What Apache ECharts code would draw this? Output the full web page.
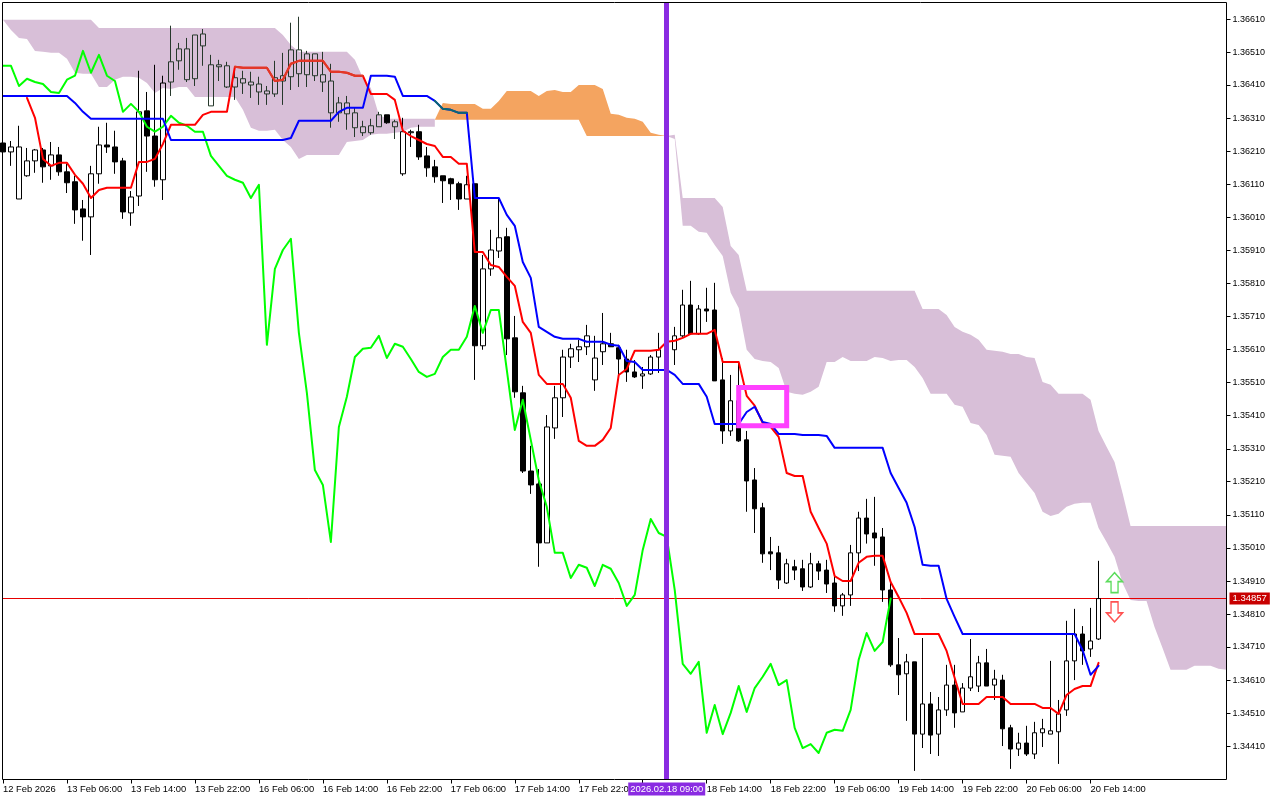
<!DOCTYPE html>
<html><head><meta charset="utf-8">
<script src="https://cdn.jsdelivr.net/npm/echarts@6/dist/echarts.min.js"></script>
<style>html,body{margin:0;padding:0;background:#fff}#c{width:1280px;height:800px}</style>
</head><body><div id="c"></div>
<script>
// All prices are in points (1 point = 0.00001)
const opens=[136232,136205,136063,136133,136178,136211,136163,136196,136145,136115,
136033,136009,136139,136226,136220,136178,136021,136072,136329,136253,
136121,136416,136480,136516,136426,136561,136344,136468,136465,136401,
136426,136416,136410,136389,136380,136419,136432,136513,136438,136501,
136438,136419,136323,136353,136323,136281,136263,136281,136317,136296,
136139,136263,136266,136193,136160,136133,136124,136109,136063,136109,
135620,135852,135906,135949,135644,135478,135242,135203,135025,135372,
135463,135586,135608,135617,135517,135602,135626,135614,135580,135541,
135529,135535,135586,135608,135608,135650,135743,135656,135731,135728,
135517,135363,135454,135336,135215,135131,134998,134995,134904,134953,
134947,134892,134962,134943,134904,134835,134868,134995,135100,135055,
135043,134883,134657,134630,134666,134448,134539,134448,134521,134596,
134515,134587,134593,134663,134596,134611,134467,134403,134421,134388,
134452,134448,134455,134521,134669,134750,134705,134735];
const closes=[136205,136220,136220,136178,136211,136160,136196,136145,136112,136030,
136009,136139,136226,136220,136175,136024,136069,136326,136253,136121,
136413,136477,136516,136423,136558,136525,136468,136462,136401,136429,
136413,136407,136386,136380,136429,136435,136513,136441,136501,136435,
136416,136323,136353,136320,136278,136263,136284,136317,136293,136281,
136266,136266,136190,136157,136130,136118,136109,136063,136106,135620,
135852,135909,135946,135641,135481,135242,135200,135025,135375,135463,
135586,135611,135617,135650,135583,135626,135617,135580,135541,135526,
135535,135586,135608,135632,135650,135743,135656,135731,135725,135514,
135363,135454,135333,135212,135128,134992,134992,134913,134962,134943,
134892,134962,134940,134901,134835,134868,134995,135100,135052,135040,
134883,134657,134627,134666,134448,134539,134445,134521,134596,134512,
134587,134621,134663,134593,134614,134464,134403,134421,134388,134452,
134464,134458,134509,134669,134750,134699,134729,134857];
const lows=[136205,136163,136063,136130,136142,136112,136121,136133,136081,135988,
135937,135894,136109,136202,136139,136003,135982,136042,136145,136100,
136060,136374,136453,136416,136404,136465,136344,136419,136398,136362,
136380,136368,136347,136347,136371,136347,136392,136401,136401,136419,
136386,136278,136296,136272,136250,136253,136257,136281,136290,136244,
136133,136220,136181,136130,136112,136051,136060,136030,136063,135517,
135608,135831,135885,135592,135463,135236,135173,134953,135025,135339,
135405,135553,135571,135592,135484,135562,135617,135532,135511,135523,
135490,135532,135538,135592,135562,135644,135656,135653,135692,135514,
135324,135348,135330,135119,135055,134965,134943,134886,134901,134913,
134880,134889,134913,134874,134817,134805,134835,134940,135023,134956,
134847,134651,134566,134488,134337,134406,134388,134382,134503,134467,
134515,134578,134575,134593,134551,134412,134343,134382,134382,134373,
134409,134448,134358,134503,134611,134657,134681,134732];
const highs=[136232,136238,136284,136217,136214,136217,136235,136220,136169,136133,
136060,136163,136281,136293,136269,136187,136087,136450,136386,136468,
136435,136586,136534,136549,136558,136576,136498,136483,136477,136462,
136450,136447,136432,136404,136480,136504,136595,136613,136510,136501,
136507,136471,136371,136374,136338,136299,136305,136326,136317,136302,
136308,136272,136287,136220,136181,136133,136127,136115,136133,136109,
135894,135970,136066,135976,135710,135499,135318,135248,135411,135499,
135608,135626,135638,135683,135650,135719,135659,135623,135608,135577,
135556,135592,135659,135653,135677,135789,135816,135743,135795,135810,
135583,135532,135568,135363,135251,135146,135043,135016,134977,134974,
134974,134995,134971,134974,134928,134874,135019,135119,135158,135164,
135070,134907,134738,134690,134666,134738,134575,134560,134657,134657,
134602,134735,134684,134705,134642,134627,134476,134452,134473,134485,
134494,134669,134551,134790,134826,134774,134829,134971];
const kijun=[136374,136374,136374,136374,136374,136374,136374,136374,136374,136353,
136326,136305,136305,136305,136305,136305,136305,136305,136305,136305,
136305,136241,136241,136241,136241,136241,136241,136241,136241,136241,
136241,136241,136241,136241,136241,136241,136247,136299,136299,136299,
136299,136299,136326,136338,136338,136338,136435,136435,136435,136432,
136374,136374,136374,136374,136359,136335,136332,136323,136323,136066,
136066,136066,136066,136015,135982,135873,135825,135677,135662,135647,
135641,135641,135641,135632,135632,135632,135623,135620,135574,135571,
135547,135547,135547,135547,135532,135505,135505,135505,135466,135384,
135384,135384,135384,135420,135436,135390,135384,135354,135354,135354,
135351,135351,135351,135348,135312,135312,135312,135312,135312,135312,
135312,135236,135191,135146,135073,134959,134956,134956,134856,134802,
134750,134750,134750,134750,134750,134750,134750,134750,134750,134750,
134750,134750,134750,134750,134750,134702,134627,134654];
const tenkan=[null,null,null,136368,136308,136184,136163,136172,136172,136136,
136109,136066,136090,136097,136097,136097,136097,136175,136175,136184,
136229,136287,136287,136287,136287,136317,136326,136326,136326,136462,
136459,136459,136459,136459,136419,136423,136471,136480,136480,136480,
136480,136447,136447,136444,136435,136435,136380,136380,136380,136362,
136269,136253,136241,136229,136223,136190,136190,136169,136169,135903,
135903,135864,135858,135828,135801,135692,135659,135532,135505,135505,
135505,135463,135333,135318,135318,135336,135372,135532,135550,135605,
135605,135605,135608,135632,135635,135644,135656,135656,135656,135668,
135571,135571,135571,135469,135439,135387,135375,135345,135236,135227,
135227,135119,135070,135023,134925,134910,134910,134965,134983,134986,
134986,134907,134862,134814,134750,134750,134750,134750,134699,134618,
134539,134539,134539,134560,134560,134560,134539,134539,134539,134539,
134527,134527,134509,134566,134584,134593,134593,134663];
const chikou=[136465,136465,136404,136426,136416,136410,136386,136383,136423,136435,
136510,136444,136498,136435,136419,136326,136350,136326,136281,136266,
136281,136314,136293,136284,136266,136266,136193,136163,136133,136121,
136112,136066,136106,135623,135852,135909,135943,135659,135478,135245,
135200,135028,135375,135466,135586,135611,135614,135650,135583,135626,
135617,135580,135541,135526,135535,135586,135608,135608,135647,135740,
135659,135728,135728,135547,135366,135457,135336,135215,135134,134995,
134995,134919,134959,134950,134895,134959,134947,134904,134835,134868,
135004,135097,135055,135043,134883,134660,134630,134666,134452,134536,
134448,134512,134593,134515,134587,134621,134660,134596,134611,134467,
134406,134418,134391,134452,134461,134458,134521,134672,134753,134699,
134726,134857];
const cloudTop=[136604,136604,136604,136604,136604,136604,136604,136604,136604,136604,
136604,136604,136579,136579,136579,136579,136579,136579,136579,136579,
136579,136579,136579,136579,136579,136579,136579,136579,136579,136579,
136579,136579,136579,136579,136579,136558,136528,136507,136507,136507,
136507,136507,136507,136507,136483,136429,136398,136317,136305,136305,
136305,136305,136305,136305,136305,null,null,null,null,null,
null,null,null,null,null,null,null,null,null,null,
null,null,null,null,null,null,null,null,null,null,
null,null,null,136253,136257,136066,136066,136066,136066,136066,
136039,135921,135894,135786,135786,135786,135786,135786,135786,135786,
135786,135786,135786,135786,135786,135786,135786,135786,135786,135786,
135786,135786,135786,135786,135786,135731,135731,135731,135713,135677,
135662,135653,135638,135608,135605,135602,135595,135595,135586,135583,
135511,135502,135475,135475,135475,135475,135457,135363,135315,135269,
135176,135076,135076,135076,135076,135076,135076,135076,135076,135076,
135076,135076,135076,135076];
const cloudBottom=[136604,136573,136549,136546,136510,136507,136504,136504,136486,136444,
136441,136441,136401,136401,136423,136432,136432,136429,136413,136383,
136398,136395,136401,136401,136371,136371,136371,136371,136371,136371,
136332,136278,136269,136269,136272,136241,136220,136184,136196,136196,
136196,136196,136196,136235,136238,136241,136257,136260,136260,136263,
136266,136278,136281,136281,136281,null,null,null,null,null,
null,null,null,null,null,null,null,null,null,null,
null,null,null,null,null,null,null,null,null,null,
null,null,null,136253,136244,135982,135982,135964,135961,135924,
135891,135780,135734,135608,135580,135574,135571,135553,135481,135475,
135472,135481,135496,135571,135571,135586,135574,135574,135574,135586,
135583,135574,135577,135577,135556,135523,135475,135475,135475,135442,
135436,135387,135381,135351,135291,135288,135285,135236,135206,135176,
135119,135106,135113,135134,135143,135146,135146,135070,135028,134983,
134904,134853,134850,134850,134771,134708,134642,134642,134642,134654,
134654,134654,134645,134642];
const reverseStart=54;
const reverseTop=[136302,136353,136350,136350,136350,136350,136335,136335,136359,136389,
136389,136389,136389,136374,136389,136392,136386,136386,136407,136407,
136407,136395,136320,136317,136308,136305,136296,136263,136257,136253];
const reverseBottom=[136302,136302,136302,136302,136302,136302,136302,136302,136302,136302,
136302,136302,136302,136302,136302,136302,136302,136302,136302,136253,
136253,136253,136253,136253,136253,136253,136253,136253,136253,136253];
const priceTicks=[136606,136506,136407,136307,136207,136108,136008,135908,135808,135708,135609,135509,135409,135309,135210,135110,135010,134910,134810,134711,134611,134511,134411];
const priceLabels=['1.36610','1.36510','1.36410','1.36310','1.36210','1.36110','1.36010','1.35910','1.35810','1.35710','1.35610','1.35510','1.35410','1.35310','1.35210','1.35110','1.35010','1.34910','1.34810','1.34710','1.34610','1.34510','1.34410'];
const timeLabels=['12 Feb 2026','13 Feb 06:00','13 Feb 14:00','13 Feb 22:00','16 Feb 06:00','16 Feb 14:00','16 Feb 22:00','17 Feb 06:00','17 Feb 14:00','17 Feb 22:00','18 Feb 06:00','18 Feb 14:00','18 Feb 22:00','19 Feb 06:00','19 Feb 14:00','19 Feb 22:00','20 Feb 06:00','20 Feb 14:00'];
const darkBars=[21,22,23,24,25,26,27,28,29,30,31,32,33,34,35,36,37,38,39,40,41,42,43,44,45,46,47,49];
const lastPrice=134857, markedBar=83, markedLabel='2026.02.18 09:00';
const boxBars=[92,98], boxPrices=[135494,135379];
const arrowBar=139, arrowUpPrice=134905, arrowDownPrice=134817;
const barCount=154;

const categories=Array.from({length:barCount},(_,i)=>String(i));
const font='"Liberation Sans", Arial, sans-serif';
const clear='rgba(0,0,0,0)', darkInk='#26382b';
const candles=opens.map((o,i)=>{
  const item={value:[o,closes[i],lows[i],highs[i]]};
  if(darkBars.includes(i)) item.itemStyle={color:clear,color0:darkInk,borderColor:darkInk,borderColor0:darkInk};
  return item;
});
function polygon(api,top,bottom,start,color){
  const up=[],down=[];
  top.forEach((v,k)=>{ if(v!=null){ up.push(api.coord([start+k,v])); down.unshift(api.coord([start+k,bottom[k]])); } });
  return {type:'polygon',shape:{points:up.concat(down)},style:{fill:color}};
}
function cloudSeries(){
  const first=x=>x.slice(0,55), last=x=>x.slice(83);
  return {type:'custom',z:1,silent:true,clip:true,data:[[0,134500]],
    encode:{x:0,y:1},
    renderItem:(p,api)=>({type:'group',children:[
      polygon(api,first(cloudTop),first(cloudBottom),0,'#D8BFD8'),
      polygon(api,last(cloudTop),last(cloudBottom),83,'#D8BFD8'),
      polygon(api,reverseTop,reverseBottom,reverseStart,'#F4A460')
    ]})};
}
function line(data,color,z,extra){
  return Object.assign({type:'line',data,z,showSymbol:false,symbol:'none',silent:true,connectNulls:false,
    lineStyle:{color,width:2,cap:'round',join:'round'},itemStyle:{color}},extra||{});
}
const slice=(arr,a,b)=>arr.map((v,i)=>(i>=a&&i<=b)?v:null);
const upArrow='path://M8 0 L16 9 L11.5 9 L11.5 20 L4.5 20 L4.5 9 L0 9 Z';
const downArrow='path://M8 20 L16 11 L11.5 11 L11.5 0 L4.5 0 L4.5 11 L0 11 Z';
const labelledTick=i=>i%8===0&&i<=136;

const chart=echarts.init(document.getElementById('c'),null,{renderer:'canvas'});
chart.setOption({
  animation:false,backgroundColor:'#fff',
  grid:{left:2.5,top:2.5,width:1224,height:777,show:false,containLabel:false},
  graphic:[{type:'rect',z:50,silent:true,shape:{x:2.5,y:2.5,width:1224,height:777},style:{fill:null,stroke:'#000',lineWidth:1}}],
  xAxis:{type:'category',data:categories,boundaryGap:false,
    axisLine:{show:false},
    axisTick:{show:true,length:4,interval:labelledTick,lineStyle:{color:'#000'}},
    axisLabel:{show:true,interval:labelledTick,align:'left',margin:5,color:'#000',fontFamily:font,fontSize:9.4,
      formatter:(v,i)=>timeLabels[Math.round(i/8)]||'',hideOverlap:false},
    splitLine:{show:false}},
  yAxis:{type:'value',position:'right',min:134311,max:136656,scale:true,
    axisLine:{show:false},
    axisTick:{show:true,length:4,customValues:priceTicks,lineStyle:{color:'#000'}},
    axisLabel:{show:true,margin:6,customValues:priceTicks,color:'#000',fontFamily:font,fontSize:9,
      formatter:v=>priceLabels[priceTicks.indexOf(v)]},
    splitLine:{show:false}},
  series:[
    cloudSeries(),
    {type:'candlestick',data:candles,z:2,barWidth:5,silent:true,
      itemStyle:{color:clear,color0:'#000',borderColor:'#000',borderColor0:'#000',borderWidth:1},
      markLine:{silent:true,symbol:'none',animation:false,z:2,
        lineStyle:{color:'#e60000',width:1,type:'solid'},
        label:{show:true,position:'end',distance:3,formatter:()=>(lastPrice/1e5).toFixed(5),color:'#fff',backgroundColor:'#c80000',padding:[1,3],fontFamily:font,fontSize:9.5},
        data:[{yAxis:lastPrice}]}},
    line(chikou,'#00ff00',3),
    line(tenkan,'#ff0000',3),
    line(slice(tenkan,29,45),'#e03a28',3),
    line(kijun,'#0000ff',3,{
      markLine:{silent:true,symbol:'none',animation:false,z:6,
        lineStyle:{color:'#8a2be2',width:5,type:'solid'},
        label:{show:true,position:'start',distance:3,formatter:markedLabel,color:'#fff',backgroundColor:'#8a2be2',padding:[2,2],fontFamily:font,fontSize:9.4},
        data:[{xAxis:markedBar}]},
      markArea:{silent:true,z:7,itemStyle:{color:clear,borderColor:'#ff40ff',borderWidth:5},
        data:[[{xAxis:boxBars[0],yAxis:boxPrices[0]},{xAxis:boxBars[1],yAxis:boxPrices[1]}]]}}),
    line(slice(kijun,54,58),'#0b6a70',3),
    {type:'scatter',z:4,silent:true,symbol:upArrow,symbolSize:[16,20],data:[[arrowBar,arrowUpPrice]],
      itemStyle:{color:'#fff',borderColor:'#5cdc5c',borderWidth:1.5,opacity:1}},
    {type:'scatter',z:4,silent:true,symbol:downArrow,symbolSize:[16,20],data:[[arrowBar,arrowDownPrice]],
      itemStyle:{color:'#fff',borderColor:'#ff5050',borderWidth:1.5,opacity:1}}
  ]
});
</script></body></html>
